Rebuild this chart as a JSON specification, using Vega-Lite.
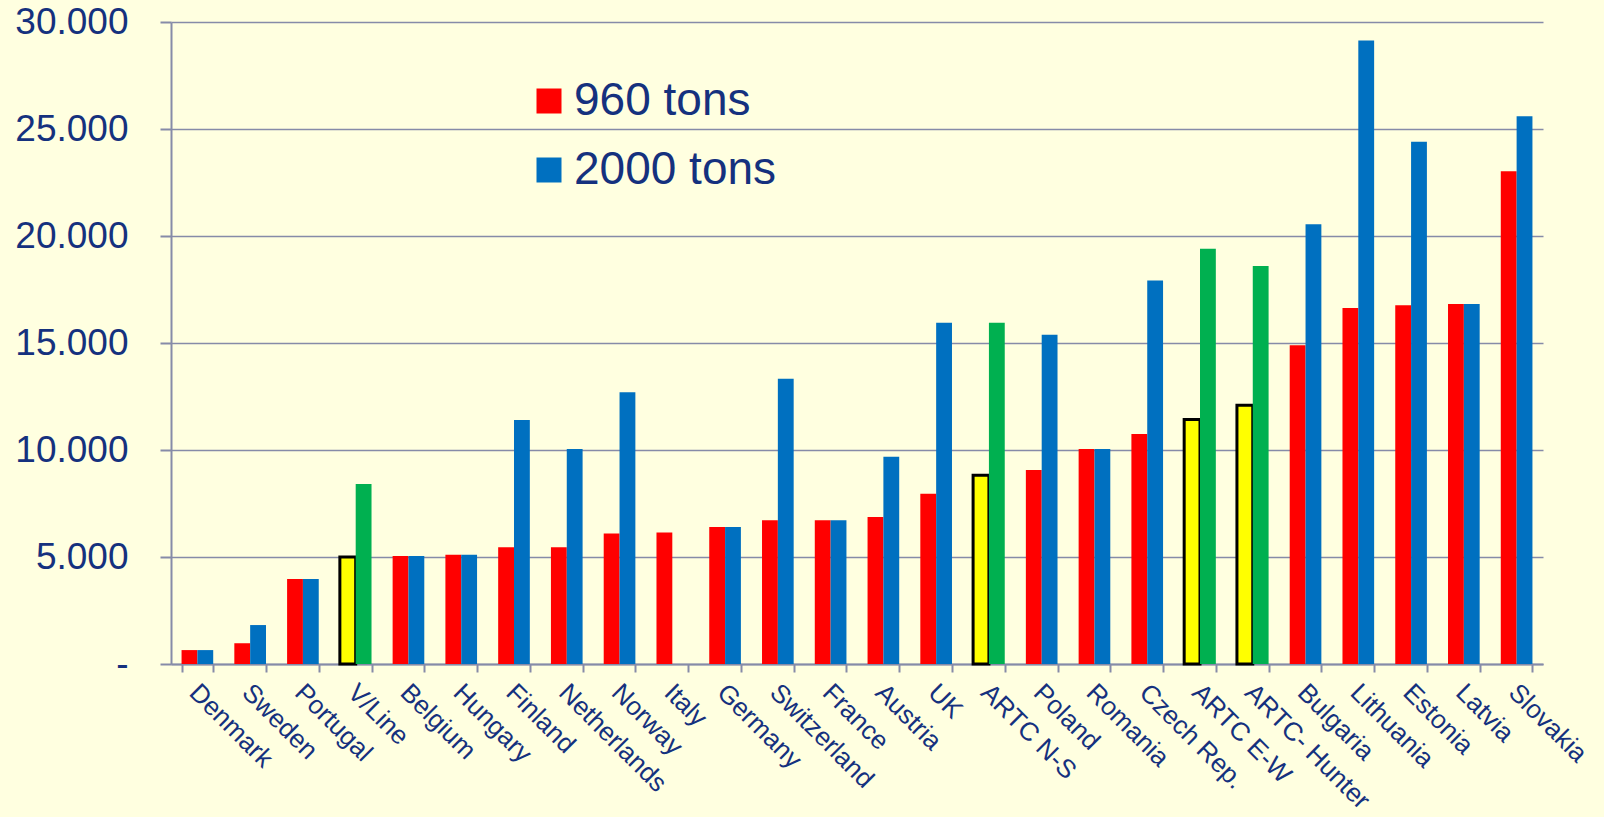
{
  "$schema": "https://vega.github.io/schema/vega-lite/v6.json",
  "autosize": "none",
  "width": 1372,
  "height": 642,
  "padding": {"left": 171, "top": 22, "right": 61, "bottom": 153},
  "background": "#FFFFE0",
  "config": {
    "view": {"stroke": null},
    "font": "Liberation Sans",
    "axis": {"labelFont": "Liberation Sans", "labelColor": "#15317E", "domainColor": "#868BA8", "tickColor": "#868BA8", "gridColor": "#868BA8", "domainWidth": 2, "tickWidth": 2, "gridWidth": 1.5}
  },
  "data": {
    "values": [
      {"country": "Denmark", "region": "Europe", "series": "960 tons", "value": 650},
      {"country": "Denmark", "region": "Europe", "series": "2000 tons", "value": 650},
      {"country": "Sweden", "region": "Europe", "series": "960 tons", "value": 970},
      {"country": "Sweden", "region": "Europe", "series": "2000 tons", "value": 1820},
      {"country": "Portugal", "region": "Europe", "series": "960 tons", "value": 3970},
      {"country": "Portugal", "region": "Europe", "series": "2000 tons", "value": 3970},
      {"country": "V/Line", "region": "Australia", "series": "960 tons", "value": 5000},
      {"country": "V/Line", "region": "Australia", "series": "2000 tons", "value": 8410},
      {"country": "Belgium", "region": "Europe", "series": "960 tons", "value": 5050},
      {"country": "Belgium", "region": "Europe", "series": "2000 tons", "value": 5050},
      {"country": "Hungary", "region": "Europe", "series": "960 tons", "value": 5100},
      {"country": "Hungary", "region": "Europe", "series": "2000 tons", "value": 5100},
      {"country": "Finland", "region": "Europe", "series": "960 tons", "value": 5450},
      {"country": "Finland", "region": "Europe", "series": "2000 tons", "value": 11400},
      {"country": "Netherlands", "region": "Europe", "series": "960 tons", "value": 5450},
      {"country": "Netherlands", "region": "Europe", "series": "2000 tons", "value": 10050},
      {"country": "Norway", "region": "Europe", "series": "960 tons", "value": 6100},
      {"country": "Norway", "region": "Europe", "series": "2000 tons", "value": 12700},
      {"country": "Italy", "region": "Europe", "series": "960 tons", "value": 6150},
      {"country": "Germany", "region": "Europe", "series": "960 tons", "value": 6400},
      {"country": "Germany", "region": "Europe", "series": "2000 tons", "value": 6400},
      {"country": "Switzerland", "region": "Europe", "series": "960 tons", "value": 6720},
      {"country": "Switzerland", "region": "Europe", "series": "2000 tons", "value": 13330},
      {"country": "France", "region": "Europe", "series": "960 tons", "value": 6720},
      {"country": "France", "region": "Europe", "series": "2000 tons", "value": 6720},
      {"country": "Austria", "region": "Europe", "series": "960 tons", "value": 6870},
      {"country": "Austria", "region": "Europe", "series": "2000 tons", "value": 9690},
      {"country": "UK", "region": "Europe", "series": "960 tons", "value": 7950},
      {"country": "UK", "region": "Europe", "series": "2000 tons", "value": 15950},
      {"country": "ARTC N-S", "region": "Australia", "series": "960 tons", "value": 8820},
      {"country": "ARTC N-S", "region": "Australia", "series": "2000 tons", "value": 15950},
      {"country": "Poland", "region": "Europe", "series": "960 tons", "value": 9070},
      {"country": "Poland", "region": "Europe", "series": "2000 tons", "value": 15380},
      {"country": "Romania", "region": "Europe", "series": "960 tons", "value": 10050},
      {"country": "Romania", "region": "Europe", "series": "2000 tons", "value": 10050},
      {"country": "Czech Rep.", "region": "Europe", "series": "960 tons", "value": 10750},
      {"country": "Czech Rep.", "region": "Europe", "series": "2000 tons", "value": 17920},
      {"country": "ARTC E-W", "region": "Australia", "series": "960 tons", "value": 11430},
      {"country": "ARTC E-W", "region": "Australia", "series": "2000 tons", "value": 19400},
      {"country": "ARTC- Hunter", "region": "Australia", "series": "960 tons", "value": 12090},
      {"country": "ARTC- Hunter", "region": "Australia", "series": "2000 tons", "value": 18600},
      {"country": "Bulgaria", "region": "Europe", "series": "960 tons", "value": 14900},
      {"country": "Bulgaria", "region": "Europe", "series": "2000 tons", "value": 20550},
      {"country": "Lithuania", "region": "Europe", "series": "960 tons", "value": 16640},
      {"country": "Lithuania", "region": "Europe", "series": "2000 tons", "value": 29130},
      {"country": "Estonia", "region": "Europe", "series": "960 tons", "value": 16760},
      {"country": "Estonia", "region": "Europe", "series": "2000 tons", "value": 24410},
      {"country": "Latvia", "region": "Europe", "series": "960 tons", "value": 16820},
      {"country": "Latvia", "region": "Europe", "series": "2000 tons", "value": 16820},
      {"country": "Slovakia", "region": "Europe", "series": "960 tons", "value": 23020},
      {"country": "Slovakia", "region": "Europe", "series": "2000 tons", "value": 25590}
    ]
  },
  "mark": {"type": "bar", "strokeWidth": 3},
  "encoding": {
    "x": {
      "field": "country", "type": "nominal", "sort": null,
      "scale": {"paddingInner": 0.4, "paddingOuter": 0.2},
      "axis": {"title": null, "labelAngle": 45, "labelFontSize": 26, "tickBand": "extent", "tickSize": 8, "labelPadding": 7, "labelOffset": 5, "grid": false, "labelLimit": 0}
    },
    "xOffset": {"field": "series", "type": "nominal", "scale": {"domain": ["960 tons", "2000 tons"], "paddingInner": 0, "paddingOuter": 0}},
    "y": {
      "field": "value", "type": "quantitative",
      "scale": {"domain": [0, 30000], "nice": false},
      "axis": {"title": null, "values": [0, 5000, 10000, 15000, 20000, 25000, 30000], "grid": true, "tickSize": 11, "labelPadding": 32, "labelFontSize": 37,
        "labelExpr": "datum.value == 0 ? '-\u00a0\u00a0' : replace(format(datum.value, ','), ',', '.')"}
    },
    "color": {
      "condition": [
        {"test": "datum.region === 'Australia' && datum.series === '960 tons'", "value": "#FFFF00"},
        {"test": "datum.region === 'Australia' && datum.series === '2000 tons'", "value": "#00B050"}
      ],
      "field": "series", "type": "nominal",
      "scale": {"domain": ["960 tons", "2000 tons"], "range": ["#FF0000", "#0070C0"]},
      "legend": {"title": null, "orient": "none", "legendX": 355, "legendY": 56, "padding": 0, "symbolType": "square", "symbolSize": 625, "symbolStrokeWidth": 0, "labelFontSize": 46, "labelColor": "#15317E", "labelFont": "Liberation Sans", "labelOffset": 2, "labelLimit": 0, "rowPadding": 23}
    },
    "stroke": {
      "condition": {"test": "datum.region === 'Australia' && datum.series === '960 tons'", "value": "black"},
      "value": null
    }
  }
}
